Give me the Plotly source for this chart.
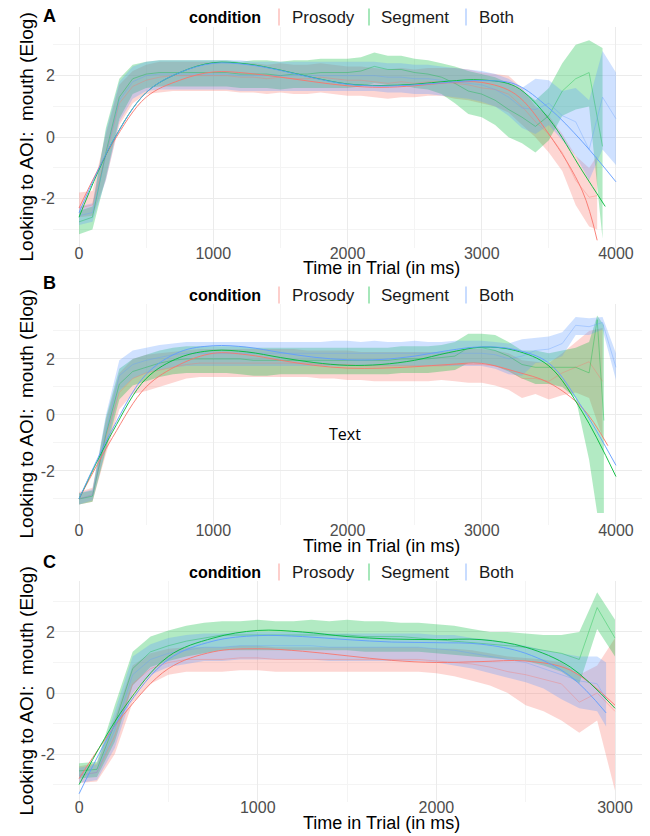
import plotly.graph_objects as go

# ---------------- DATA ----------------
CONDITIONS = ["Prosody", "Segment", "Both"]
COLORS = {"Prosody": "248,118,109", "Segment": "0,186,56", "Both": "97,156,255"}

T_0_3900 = [0, 100, 200, 300, 400, 500, 600, 700, 800, 900, 1000, 1100, 1200, 1300, 1400, 1500, 1600, 1700, 1800, 1900,
            2000, 2100, 2200, 2300, 2400, 2500, 2600, 2700, 2800, 2900, 3000, 3100, 3200, 3300, 3400, 3500, 3600, 3700, 3800, 3900]
T_0_4000 = T_0_3900 + [4000]
T_0_3000 = T_0_3900[:31]

# Panel A
A_pro_t = T_0_3900[:39] + [3860]
A_pro_mean = [-2.3, -2.2, -0.6, 1.1, 1.65, 1.85, 1.95, 2.0, 2.0, 2.0, 2.0, 2.0, 1.95, 1.95, 1.9, 1.95, 1.9, 1.9, 1.95, 1.9,
              1.85, 1.85, 1.8, 1.75, 1.8, 1.75, 1.8, 1.8, 1.75, 1.7, 1.6, 1.55, 1.4, 1.0, 0.5, 0.1, -0.5, -1.4, -1.95, -1.9]
A_pro_hi = [-1.8, -1.75, 0.1, 1.7, 2.15, 2.35, 2.45, 2.45, 2.45, 2.45, 2.45, 2.45, 2.4, 2.4, 2.35, 2.4, 2.35, 2.35, 2.4, 2.35,
            2.3, 2.3, 2.25, 2.2, 2.25, 2.2, 2.25, 2.25, 2.25, 2.2, 2.1, 2.05, 2.0, 1.6, 1.0, 0.7, 0.1, -0.6, -1.0, -0.6]
A_pro_lo = [-2.6, -2.55, -1.4, 0.4, 1.1, 1.4, 1.45, 1.5, 1.5, 1.5, 1.5, 1.5, 1.45, 1.45, 1.4, 1.45, 1.4, 1.4, 1.45, 1.4,
            1.35, 1.35, 1.3, 1.25, 1.3, 1.3, 1.35, 1.35, 1.25, 1.2, 1.1, 1.0, 0.8, 0.4, 0.0, -0.5, -1.1, -2.2, -2.9, -3.0]

A_seg_t = T_0_3900
A_seg_mean = [-2.75, -2.6, -0.5, 1.3, 1.9, 2.05, 2.1, 2.1, 2.1, 2.1, 2.1, 2.1, 2.05, 2.05, 2.05, 2.0, 2.05, 2.05, 2.1, 2.1,
              2.1, 2.15, 2.3, 2.2, 2.2, 2.1, 2.05, 1.95, 1.75, 1.5, 1.4, 1.2, 0.9, 0.65, 0.35, 0.7, 1.5, 1.9, 2.1, -0.3]
A_seg_hi = [-2.4, -2.25, 0.3, 1.9, 2.35, 2.45, 2.5, 2.5, 2.5, 2.5, 2.5, 2.5, 2.45, 2.5, 2.5, 2.45, 2.5, 2.5, 2.55, 2.55,
            2.55, 2.6, 2.75, 2.65, 2.65, 2.55, 2.5, 2.4, 2.3, 2.15, 2.05, 1.95, 1.75, 1.5, 1.2, 1.6, 2.4, 3.0, 3.15, 2.9]
A_seg_lo = [-3.15, -3.0, -1.3, 0.6, 1.4, 1.6, 1.65, 1.65, 1.65, 1.65, 1.65, 1.65, 1.6, 1.6, 1.6, 1.55, 1.6, 1.6, 1.6, 1.6,
            1.6, 1.65, 1.75, 1.7, 1.7, 1.6, 1.55, 1.4, 1.1, 0.75, 0.65, 0.4, 0.0, -0.2, -0.5, -0.1, 0.7, 0.9, 1.0, -3.3]

A_both_t = T_0_4000
A_both_mean = [-2.55, -2.45, -0.6, 1.2, 1.8, 2.0, 2.05, 2.05, 2.05, 2.05, 2.05, 2.05, 2.0, 2.0, 2.0, 2.0, 2.0, 2.0, 2.0, 2.0,
               2.0, 2.0, 2.0, 1.95, 1.95, 1.9, 1.9, 1.85, 1.8, 1.75, 1.7, 1.55, 1.3, 0.95, 0.9, 1.1, 0.7, 0.5, -0.4, 1.3, 0.6]
A_both_hi = [-2.25, -2.15, 0.2, 1.8, 2.3, 2.45, 2.5, 2.5, 2.5, 2.5, 2.5, 2.5, 2.5, 2.45, 2.45, 2.45, 2.45, 2.45, 2.45, 2.45,
             2.45, 2.45, 2.45, 2.4, 2.4, 2.35, 2.35, 2.3, 2.25, 2.2, 2.15, 2.05, 1.9, 1.6, 1.9, 1.85, 1.5, 1.6, 1.2, 2.8, 2.1]
A_both_lo = [-2.85, -2.75, -1.4, 0.5, 1.25, 1.5, 1.55, 1.55, 1.55, 1.55, 1.55, 1.55, 1.5, 1.5, 1.5, 1.5, 1.5, 1.5, 1.5, 1.5,
             1.5, 1.5, 1.5, 1.45, 1.45, 1.4, 1.4, 1.35, 1.3, 1.25, 1.15, 1.0, 0.7, 0.3, 0.1, 0.4, -0.1, -0.6, -1.4, -0.4, -0.9]

FIT_T = [0, 250, 500, 750, 1000, 1250, 1500, 1750, 2000, 2250, 2500, 2750, 3000, 3250, 3500, 3750]
A_pro_fit_t = FIT_T + [3860]
A_pro_fit = [-2.3, -0.2, 1.3, 1.85, 2.12, 2.08, 1.95, 1.8, 1.67, 1.62, 1.67, 1.77, 1.78, 1.4, 0.1, -1.75, -3.35]
A_seg_fit_t = FIT_T + [3920]
A_seg_fit = [-2.6, -0.15, 1.45, 2.1, 2.42, 2.38, 2.18, 1.93, 1.73, 1.68, 1.72, 1.82, 1.86, 1.65, 0.6, -1.1, -2.25]
A_both_fit_t = FIT_T + [4000]
A_both_fit = [-2.45, -0.15, 1.45, 2.1, 2.4, 2.36, 2.17, 1.92, 1.72, 1.66, 1.7, 1.78, 1.84, 1.72, 0.95, -0.15, -1.45]

# Panel B
B_pro_t = T_0_3900
B_pro_mean = [-3.0, -2.85, -0.8, 0.8, 1.3, 1.5, 1.6, 1.7, 1.8, 1.85, 1.85, 1.85, 1.85, 1.85, 1.85, 1.85, 1.85, 1.85, 1.8, 1.8,
              1.8, 1.75, 1.75, 1.75, 1.75, 1.75, 1.75, 1.75, 1.8, 1.8, 1.8, 1.75, 1.6, 1.3, 1.3, 1.2, 1.5, 1.7, 1.9, 1.2]
B_pro_hi = [-2.75, -2.6, -0.2, 1.5, 2.0, 2.15, 2.2, 2.25, 2.3, 2.35, 2.35, 2.35, 2.35, 2.35, 2.35, 2.35, 2.35, 2.3, 2.3, 2.3,
            2.3, 2.25, 2.25, 2.25, 2.25, 2.25, 2.25, 2.25, 2.3, 2.35, 2.35, 2.3, 2.2, 1.95, 1.9, 1.85, 2.2, 2.6, 3.0, 3.1]
B_pro_lo = [-3.2, -3.1, -1.4, 0.2, 0.75, 0.85, 1.0, 1.15, 1.3, 1.35, 1.35, 1.35, 1.35, 1.35, 1.35, 1.35, 1.35, 1.35, 1.3, 1.3,
            1.25, 1.25, 1.2, 1.2, 1.2, 1.2, 1.2, 1.25, 1.2, 1.15, 1.15, 1.05, 0.9, 0.6, 0.75, 0.55, 0.7, 0.8, 0.6, -0.8]

B_seg_t = T_0_3900[:39] + [3860, 3910]
B_seg_mean = [-3.0, -2.9, -0.7, 1.1, 1.55, 1.7, 1.85, 1.95, 2.0, 2.0, 2.0, 2.0, 2.0, 1.95, 1.95, 1.95, 1.95, 1.95, 1.95, 1.95,
              1.95, 1.95, 1.95, 1.95, 2.0, 2.0, 2.0, 2.05, 2.1, 2.4, 2.4, 2.3, 2.1, 1.8, 1.7, 1.7, 1.7, 1.7, 1.5, 3.4, -0.2]
B_seg_hi = [-2.8, -2.7, -0.1, 1.65, 2.0, 2.15, 2.3, 2.4, 2.45, 2.45, 2.45, 2.45, 2.45, 2.4, 2.4, 2.4, 2.4, 2.4, 2.4, 2.4,
            2.4, 2.4, 2.4, 2.4, 2.45, 2.45, 2.45, 2.5, 2.6, 2.9, 2.9, 2.85, 2.6, 2.3, 2.3, 2.2, 2.3, 2.4, 2.6, 3.55, 3.2]
B_seg_lo = [-3.2, -3.1, -1.3, 0.55, 1.05, 1.2, 1.35, 1.45, 1.5, 1.5, 1.5, 1.5, 1.45, 1.4, 1.4, 1.45, 1.45, 1.45, 1.45, 1.45,
            1.45, 1.45, 1.45, 1.45, 1.5, 1.5, 1.5, 1.55, 1.6, 1.85, 1.85, 1.75, 1.55, 1.3, 1.1, 1.1, 1.0, 0.6, -1.6, -3.5, -3.5]

B_both_t = T_0_4000
B_both_mean = [-3.0, -2.85, -0.6, 1.4, 1.8, 1.95, 2.05, 2.15, 2.2, 2.2, 2.2, 2.2, 2.2, 2.2, 2.2, 2.2, 2.2, 2.2, 2.2, 2.2,
               2.2, 2.2, 2.2, 2.2, 2.2, 2.2, 2.2, 2.2, 2.2, 2.2, 2.2, 2.15, 2.0, 2.1, 2.3, 2.35, 2.55, 3.2, 3.15, 3.3, 1.7]
B_both_hi = [-2.8, -2.65, 0.0, 1.95, 2.3, 2.4, 2.5, 2.55, 2.6, 2.6, 2.6, 2.6, 2.6, 2.6, 2.6, 2.6, 2.6, 2.6, 2.6, 2.65,
             2.65, 2.6, 2.65, 2.6, 2.6, 2.65, 2.6, 2.6, 2.65, 2.65, 2.65, 2.6, 2.55, 2.7, 2.75, 2.8, 2.95, 3.5, 3.45, 3.5, 2.2]
B_both_lo = [-3.2, -3.05, -1.2, 0.85, 1.3, 1.5, 1.6, 1.7, 1.75, 1.75, 1.75, 1.75, 1.75, 1.75, 1.75, 1.75, 1.75, 1.75, 1.75, 1.75,
             1.75, 1.75, 1.75, 1.75, 1.75, 1.75, 1.75, 1.75, 1.75, 1.75, 1.75, 1.65, 1.45, 1.4, 1.85, 1.9, 2.1, 2.85, 2.85, 3.05, 1.25]

B_pro_fit_t = FIT_T + [3940]
B_pro_fit = [-3.0, -0.8, 1.0, 1.8, 2.2, 2.15, 1.95, 1.77, 1.67, 1.67, 1.72, 1.8, 1.84, 1.55, 1.15, 0.25, -1.1]
B_seg_fit_t = FIT_T + [4000]
B_seg_fit = [-3.0, -0.6, 1.3, 2.05, 2.3, 2.25, 2.05, 1.87, 1.77, 1.8, 1.95, 2.22, 2.42, 2.3, 1.75, 0.1, -2.2]
B_both_fit_t = FIT_T + [4000]
B_both_fit = [-3.0, -0.5, 1.45, 2.25, 2.47, 2.42, 2.23, 2.06, 1.97, 1.98, 2.1, 2.3, 2.43, 2.33, 1.85, 0.25, -1.8]

# Panel C
C_pro_t = T_0_3000
C_pro_mean = [-2.7, -2.6, -1.4, 0.3, 0.8, 1.0, 1.1, 1.1, 1.1, 1.15, 1.15, 1.1, 1.1, 1.1, 1.1, 1.1, 1.1, 1.1, 1.1, 1.1,
              1.05, 1.0, 0.95, 0.85, 0.7, 0.6, 0.45, 0.3, -0.3, 0.0, -0.6]
C_pro_hi = [-2.4, -2.3, -0.8, 0.9, 1.3, 1.45, 1.5, 1.5, 1.5, 1.55, 1.55, 1.5, 1.5, 1.5, 1.5, 1.5, 1.5, 1.5, 1.5, 1.5,
            1.45, 1.45, 1.4, 1.3, 1.2, 1.15, 1.1, 1.0, 0.6, 0.9, 1.8]
C_pro_lo = [-2.95, -2.9, -2.0, -0.3, 0.3, 0.6, 0.7, 0.7, 0.7, 0.75, 0.75, 0.7, 0.7, 0.7, 0.7, 0.7, 0.7, 0.7, 0.7, 0.7,
            0.65, 0.55, 0.4, 0.25, 0.0, -0.4, -0.6, -0.9, -1.3, -0.9, -3.2]

C_seg_t = T_0_3000
C_seg_mean = [-2.55, -2.5, -1.0, 0.8, 1.35, 1.55, 1.7, 1.8, 1.9, 1.9, 1.9, 1.9, 1.9, 1.9, 1.9, 1.9, 1.85, 1.85, 1.85, 1.8,
              1.75, 1.7, 1.65, 1.6, 1.55, 1.5, 1.4, 1.3, 1.1, 2.8, 1.8]
C_seg_hi = [-2.3, -2.25, -0.4, 1.35, 1.85, 2.05, 2.2, 2.3, 2.35, 2.35, 2.4, 2.35, 2.35, 2.4, 2.35, 2.4, 2.35, 2.35, 2.3, 2.3,
            2.25, 2.2, 2.1, 2.0, 2.0, 1.95, 1.9, 1.9, 2.0, 3.3, 2.4]
C_seg_lo = [-2.8, -2.75, -1.6, 0.25, 0.85, 1.05, 1.2, 1.3, 1.4, 1.4, 1.4, 1.4, 1.4, 1.4, 1.4, 1.4, 1.35, 1.35, 1.35, 1.35,
            1.3, 1.25, 1.2, 1.15, 1.1, 1.05, 0.9, 0.7, 0.3, 2.1, 1.2]

C_both_t = T_0_3000[:30] + [2950]
C_both_mean = [-2.7, -2.6, -1.2, 0.6, 1.1, 1.3, 1.4, 1.5, 1.5, 1.55, 1.55, 1.55, 1.55, 1.55, 1.5, 1.5, 1.5, 1.5, 1.5, 1.5,
               1.45, 1.4, 1.3, 1.2, 1.1, 1.0, 0.8, 0.6, 0.4, 0.3, -0.2]
C_both_hi = [-2.45, -2.35, -0.6, 1.2, 1.6, 1.8, 1.9, 1.95, 1.95, 2.0, 2.0, 2.0, 2.0, 2.0, 1.95, 1.95, 1.95, 1.95, 1.95, 1.95,
             1.9, 1.9, 1.8, 1.75, 1.65, 1.55, 1.4, 1.3, 1.2, 1.2, 1.0]
C_both_lo = [-2.95, -2.85, -1.8, 0.0, 0.6, 0.85, 0.95, 1.05, 1.05, 1.1, 1.1, 1.1, 1.1, 1.1, 1.05, 1.05, 1.05, 1.05, 1.05, 1.05,
             1.0, 0.9, 0.8, 0.65, 0.5, 0.35, 0.15, -0.2, -0.5, -0.6, -1.1]

FIT_T_C = [0, 250, 500, 750, 1000, 1250, 1500, 1750, 2000, 2250, 2500, 2750]
C_pro_fit_t = FIT_T_C + [3000]
C_pro_fit = [-2.8, -0.7, 0.8, 1.35, 1.45, 1.37, 1.22, 1.07, 1.0, 1.03, 1.05, 0.75, -0.4]
C_seg_fit_t = FIT_T_C + [3000]
C_seg_fit = [-3.0, -0.5, 1.2, 1.8, 2.05, 2.0, 1.85, 1.77, 1.75, 1.75, 1.5, 0.85, -0.5]
C_both_fit_t = FIT_T_C + [2950]
C_both_fit = [-3.3, -0.6, 1.1, 1.7, 1.88, 1.85, 1.75, 1.67, 1.65, 1.6, 1.3, 0.55, -0.65]

PANEL_LABELS = ["A", "B", "C"]
X_TICKS_AB = [0, 1000, 2000, 3000, 4000]
X_TICKS_C = [0, 1000, 2000, 3000]
Y_TICKS = [-2, 0, 2]
Y_TICK_TEXT = ["-2", "0", "2"]
X_TITLE = "Time in Trial (in ms)"
Y_TITLE = "Looking to AOI:  mouth (Elog)"
LEGEND_TITLE = "condition"
NOTE_TEXT = "Text"

panels = [
    {"Prosody": (A_pro_t, A_pro_mean, A_pro_lo, A_pro_hi, A_pro_fit_t, A_pro_fit),
     "Segment": (A_seg_t, A_seg_mean, A_seg_lo, A_seg_hi, A_seg_fit_t, A_seg_fit),
     "Both": (A_both_t, A_both_mean, A_both_lo, A_both_hi, A_both_fit_t, A_both_fit)},
    {"Prosody": (B_pro_t, B_pro_mean, B_pro_lo, B_pro_hi, B_pro_fit_t, B_pro_fit),
     "Segment": (B_seg_t, B_seg_mean, B_seg_lo, B_seg_hi, B_seg_fit_t, B_seg_fit),
     "Both": (B_both_t, B_both_mean, B_both_lo, B_both_hi, B_both_fit_t, B_both_fit)},
    {"Prosody": (C_pro_t, C_pro_mean, C_pro_lo, C_pro_hi, C_pro_fit_t, C_pro_fit),
     "Segment": (C_seg_t, C_seg_mean, C_seg_lo, C_seg_hi, C_seg_fit_t, C_seg_fit),
     "Both": (C_both_t, C_both_mean, C_both_lo, C_both_hi, C_both_fit_t, C_both_fit)},
]

# ---------------- LAYOUT GEOMETRY (screen pixels) ----------------
PAGE_OFFSET = 8          # default page margin of the html body
W, H = 650 - PAGE_OFFSET, 836 - PAGE_OFFSET
PLOT_X = (53, 642)
PLOT_Y = [(27, 248), (304, 525), (581, 802)]
X_RANGES = [(-194, 4194), (-194, 4194), (-146, 3151)]
Y_RANGES = [(-3.6, 3.58), (-3.93, 3.96), (-3.57, 3.67)]
LEGEND_Y = [17, 295, 572]
LETTER_Y = [16, 283, 562]
XTITLE_Y = [268, 546, 823]

FONT = "Liberation Sans"


def fx(p):
    return (p - PAGE_OFFSET) / W


def fy(p):
    return 1 - (p - PAGE_OFFSET) / H


fig = go.Figure()

for i, panel in enumerate(panels):
    xa = "x" if i == 0 else f"x{i+1}"
    ya = "y" if i == 0 else f"y{i+1}"
    # ribbons
    for cond in CONDITIONS:
        t, m, lo, hi, ft, fv = panel[cond]
        fig.add_trace(go.Scatter(
            x=list(t) + list(t)[::-1], y=list(hi) + list(lo)[::-1],
            fill="toself", fillcolor=f"rgba({COLORS[cond]},0.3)",
            line=dict(width=0), mode="lines", hoverinfo="skip",
            showlegend=False, xaxis=xa, yaxis=ya))
    # mean lines
    for cond in CONDITIONS:
        t, m, lo, hi, ft, fv = panel[cond]
        fig.add_trace(go.Scatter(
            x=t, y=m, mode="lines",
            line=dict(color=f"rgba({COLORS[cond]},0.45)", width=0.8),
            hoverinfo="skip", showlegend=False, xaxis=xa, yaxis=ya))
    # smooth fits
    for cond in CONDITIONS:
        t, m, lo, hi, ft, fv = panel[cond]
        fig.add_trace(go.Scatter(
            x=ft, y=fv, mode="lines",
            line=dict(color=f"rgba({COLORS[cond]},0.9)", width=1.0, shape="spline", smoothing=1.0),
            hoverinfo="skip", showlegend=False, xaxis=xa, yaxis=ya))

axis_common = dict(
    showline=False, zeroline=False, ticks="", automargin=False,
    gridcolor="#EBEBEB", gridwidth=0.9,
    tickfont=dict(family=FONT, size=16, color="#4D4D4D"),
)

layout = dict(
    width=W, height=H, margin=dict(l=0, r=0, t=0, b=0, autoexpand=False),
    paper_bgcolor="white", plot_bgcolor="white", showlegend=False,
    font=dict(family=FONT),
)

annotations = []
shapes = []
for i in range(3):
    sx = "" if i == 0 else str(i + 1)
    y0, y1 = PLOT_Y[i]
    xticks = X_TICKS_C if i == 2 else X_TICKS_AB
    layout["xaxis" + sx] = dict(
        axis_common, domain=[fx(PLOT_X[0]), fx(PLOT_X[1])], range=list(X_RANGES[i]),
        anchor="y" + sx, tickvals=xticks, ticktext=[str(v) for v in xticks],
        ticklabelstandoff=-6,
        minor=dict(dtick=500, showgrid=True, gridcolor="#F4F4F4", gridwidth=0.6, tick0=0),
    )
    layout["yaxis" + sx] = dict(
        axis_common, domain=[fy(y1), fy(y0)], range=list(Y_RANGES[i]),
        anchor="x" + sx, tickvals=Y_TICKS, ticktext=Y_TICK_TEXT,
        ticklabelstandoff=-3,
        minor=dict(dtick=1, showgrid=True, gridcolor="#F4F4F4", gridwidth=0.6, tick0=0),
    )
    # panel letter
    annotations.append(dict(x=fx(50), y=fy(LETTER_Y[i]), xref="paper", yref="paper",
                            text=f"<b>{PANEL_LABELS[i]}</b>", showarrow=False,
                            font=dict(family=FONT, size=18, color="black"), xanchor="center", yanchor="middle"))
    # legend
    ly = LEGEND_Y[i]
    annotations.append(dict(x=fx(225), y=fy(ly), xref="paper", yref="paper",
                            text=f"<b>{LEGEND_TITLE}</b>", showarrow=False,
                            font=dict(family=FONT, size=16, color="black"), xanchor="center", yanchor="middle"))
    for key_x, txt_x, cond in [(279, 290, "Prosody"), (369, 379, "Segment"), (466, 477, "Both")]:
        shapes.append(dict(type="line", xref="paper", yref="paper",
                           x0=fx(key_x), x1=fx(key_x), y0=fy(ly - 8.5), y1=fy(ly + 8.5),
                           line=dict(color=f"rgba({COLORS[cond]},0.35)", width=2)))
        annotations.append(dict(x=fx(txt_x), y=fy(ly), xref="paper", yref="paper",
                                text=cond, showarrow=False,
                                font=dict(family=FONT, size=17, color="#1A1A1A"), xanchor="left", yanchor="middle"))
    # x title
    annotations.append(dict(x=fx(381), y=fy(XTITLE_Y[i]), xref="paper", yref="paper",
                            text=X_TITLE, showarrow=False,
                            font=dict(family=FONT, size=18, color="black"), xanchor="center", yanchor="middle"))
    # y title
    annotations.append(dict(x=fx(26), y=fy((y0 + y1) / 2), xref="paper", yref="paper",
                            text=Y_TITLE, showarrow=False, textangle=-90,
                            font=dict(family=FONT, size=19, color="black"), xanchor="center", yanchor="middle"))

annotations.append(dict(x=1978, y=-0.68, xref="x2", yref="y2", text=NOTE_TEXT, showarrow=False,
                        font=dict(family="Open Sans", size=16, color="black"), xanchor="center", yanchor="middle"))

layout["annotations"] = annotations
layout["shapes"] = shapes
fig.update_layout(**layout)

fig.write_html("out.html")
